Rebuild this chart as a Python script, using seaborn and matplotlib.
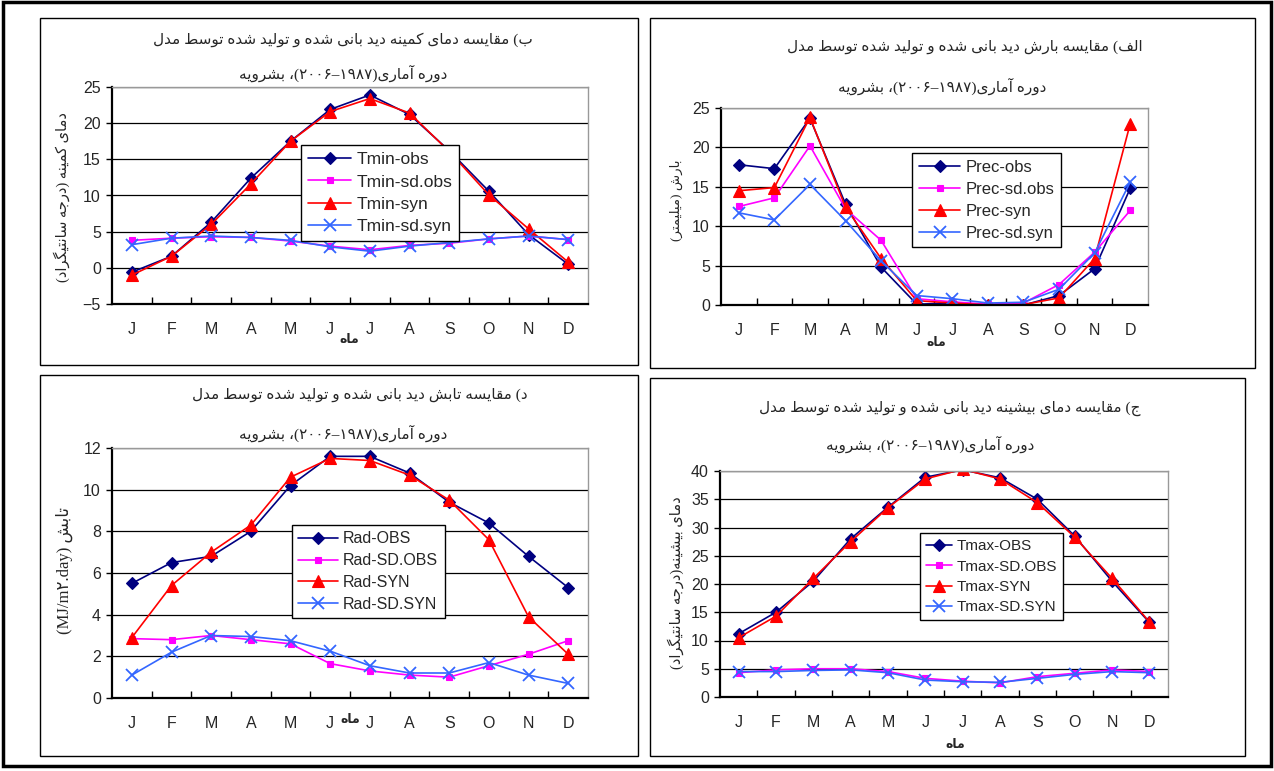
import re
import matplotlib
matplotlib.use('Agg')
import matplotlib.pyplot as plt
import seaborn as sns
from matplotlib.patches import Rectangle

months = ['J', 'F', 'M', 'A', 'M', 'J', 'J', 'A', 'S', 'O', 'N', 'D']

# ب) دمای کمینه
tmin_obs = [-0.6, 1.6, 6.3, 12.4, 17.5, 21.9, 23.9, 21.2, 16.2, 10.6, 4.6, 0.5]
tmin_sd_obs = [3.8, 4.1, 4.3, 4.2, 3.7, 3.0, 2.5, 3.1, 3.4, 4.0, 4.4, 3.9]
tmin_syn = [-1.0, 1.6, 6.0, 11.6, 17.5, 21.6, 23.4, 21.4, 16.1, 10.1, 5.4, 0.8]
tmin_sd_syn = [3.2, 4.1, 4.4, 4.2, 3.8, 2.9, 2.3, 3.0, 3.5, 4.0, 4.4, 3.9]

# الف) بارش
prec_obs = [17.8, 17.3, 23.7, 12.8, 4.8, 0.1, 0.25, 0.0, 0.0, 1.2, 4.6, 14.8]
prec_sd_obs = [12.5, 13.6, 20.2, 12.2, 8.2, 0.8, 0.4, 0.1, 0.25, 2.6, 6.7, 12.0]
prec_syn = [14.5, 14.9, 23.8, 12.4, 5.9, 0.55, 0.25, 0.0, 0.05, 0.9, 5.9, 23.0]
prec_sd_syn = [11.7, 10.8, 15.3, 10.7, 5.6, 1.2, 0.8, 0.25, 0.35, 2.0, 6.6, 15.6]

# د) تابش
rad_obs = [5.5, 6.5, 6.8, 8.0, 10.2, 11.6, 11.6, 10.8, 9.4, 8.4, 6.8, 5.3]
rad_sd_obs = [2.85, 2.8, 3.0, 2.8, 2.6, 1.65, 1.3, 1.1, 1.0, 1.55, 2.1, 2.75]
rad_syn = [2.9, 5.4, 7.0, 8.3, 10.6, 11.5, 11.4, 10.7, 9.5, 7.6, 3.9, 2.1]
rad_sd_syn = [1.1, 2.2, 3.0, 2.95, 2.75, 2.25, 1.55, 1.2, 1.2, 1.7, 1.1, 0.7]

# ج) دمای بیشینه
tmax_obs = [11.2, 15.0, 20.5, 28.0, 33.6, 38.9, 40.2, 38.8, 35.0, 28.5, 20.5, 13.2]
tmax_sd_obs = [4.3, 4.8, 5.0, 5.0, 4.5, 3.3, 2.8, 2.5, 3.6, 4.2, 4.8, 4.5]
tmax_syn = [10.5, 14.3, 21.0, 27.5, 33.5, 38.6, 40.3, 38.6, 34.4, 28.3, 21.0, 13.3]
tmax_sd_syn = [4.5, 4.5, 4.7, 4.8, 4.3, 3.0, 2.7, 2.6, 3.3, 4.0, 4.5, 4.3]

period = 'دوره آماری(۱۹۸۷–۲۰۰۶)، بشرویه'
xlab = 'ماه'

# matplotlib does not join or reorder arabic letters, so do it by hand
_dual = {'ئ': 0xFE89, 'ب': 0xFE8F, 'ت': 0xFE95, 'ث': 0xFE99, 'ج': 0xFE9D, 'ح': 0xFEA1,
         'خ': 0xFEA5, 'س': 0xFEB1, 'ش': 0xFEB5, 'ص': 0xFEB9, 'ض': 0xFEBD, 'ط': 0xFEC1,
         'ظ': 0xFEC5, 'ع': 0xFEC9, 'غ': 0xFECD, 'ف': 0xFED1, 'ق': 0xFED5, 'ك': 0xFED9,
         'ل': 0xFEDD, 'م': 0xFEE1, 'ن': 0xFEE5, 'ه': 0xFEE9, 'ي': 0xFEF1, 'پ': 0xFB56,
         'چ': 0xFB7A, 'ک': 0xFB8E, 'گ': 0xFB92, 'ی': 0xFBFC}
_right = {'آ': 0xFE81, 'أ': 0xFE83, 'ؤ': 0xFE85, 'إ': 0xFE87, 'ا': 0xFE8D, 'ة': 0xFE93,
          'د': 0xFEA9, 'ذ': 0xFEAB, 'ر': 0xFEAD, 'ز': 0xFEAF, 'و': 0xFEED, 'ى': 0xFEEF,
          'ژ': 0xFB8A}


def fa(s):
    out = []
    for i, c in enumerate(s):
        base = _dual.get(c, _right.get(c))
        if base is None:
            out.append(c)
            continue
        prev = s[i - 1] if i > 0 else ''
        nxt = s[i + 1] if i + 1 < len(s) else ''
        k = 0
        if prev in _dual:
            k += 1
        if c in _dual and (nxt in _dual or nxt in _right):
            k += 2
        out.append(chr(base + k))
    runs = re.findall(r'[A-Za-z0-9۰-۹./]+|[^A-Za-z0-9۰-۹./]', ''.join(out))
    mirror = {'(': ')', ')': '('}
    return ''.join(mirror.get(r, r) for r in reversed(runs))


sns.set_style('white')
plt.rcParams['font.family'] = ['Liberation Sans', 'DejaVu Sans']

W, H = 1274, 771
fig = plt.figure(figsize=(W / 100, H / 100), dpi=100)


def fx(x):
    return x / W


def fy(y):
    return 1 - y / H


def box(x0, y0, x1, y1, lw=1.0):
    fig.patches.append(Rectangle((fx(x0), fy(y1)), fx(x1 - x0), (y1 - y0) / H,
                                 transform=fig.transFigure, fill=False,
                                 edgecolor='black', lw=lw))


# outer frame and panel frames
box(3, 2, 1271, 766, lw=2.5)
box(40, 18, 638, 365)
box(650, 18, 1255, 368)
box(40, 375, 638, 756)
box(650, 378, 1245, 756)

colors = ['#000080', '#FF00FF', '#FF0000', '#3366FF']
markers = ['D', 's', '^', 'x']
msizes = [6.5, 5, 8, 8]
serif_fa = ['Liberation Serif', 'DejaVu Sans']

panels = [
    dict(rect=(112, 87, 588, 304), ylim=(-5, 25), yticks=range(-5, 26, 5),
         series=[tmin_obs, tmin_sd_obs, tmin_syn, tmin_sd_syn],
         labels=['Tmin-obs', 'Tmin-sd.obs', 'Tmin-syn', 'Tmin-sd.syn'],
         leg=(301, 145), legfs=12.5, hl=2.5,
         t1='ب) مقایسه دمای کمینه دید بانی شده و تولید شده توسط مدل', t1pos=(343, 40),
         t2pos=(343, 73), ylab='دمای کمینه (درجه سانتیگراد)', ylpos=(62, 197), ylfs=10.5,
         xlpos=(349, 340)),
    dict(rect=(721, 108, 1148, 305), ylim=(0, 25), yticks=range(0, 26, 5),
         series=[prec_obs, prec_sd_obs, prec_syn, prec_sd_syn],
         labels=['Prec-obs', 'Prec-sd.obs', 'Prec-syn', 'Prec-sd.syn'],
         leg=(912, 153), legfs=12, hl=2.5,
         t1='الف) مقایسه بارش دید بانی شده و تولید شده توسط مدل', t1pos=(965, 47),
         t2pos=(942, 86), ylab='بارش (میلیمتر)', ylpos=(676, 200), ylfs=9.5,
         xlpos=(936, 343)),
    dict(rect=(112, 448, 588, 698), ylim=(0, 12), yticks=range(0, 13, 2),
         series=[rad_obs, rad_sd_obs, rad_syn, rad_sd_syn],
         labels=['Rad-OBS', 'Rad-SD.OBS', 'Rad-SYN', 'Rad-SD.SYN'],
         leg=(292, 525), legfs=11.5, hl=2.5,
         t1='د) مقایسه تابش دید بانی شده و تولید شده توسط مدل', t1pos=(360, 395),
         t2pos=(343, 433), ylab='تابش (MJ/m۲.day)', ylpos=(64, 570), ylfs=12,
         xlpos=(350, 720)),
    dict(rect=(720, 471, 1168, 697), ylim=(0, 40), yticks=range(0, 41, 5),
         series=[tmax_obs, tmax_sd_obs, tmax_syn, tmax_sd_syn],
         labels=['Tmax-OBS', 'Tmax-SD.OBS', 'Tmax-SYN', 'Tmax-SD.SYN'],
         leg=(920, 533), legfs=11, hl=1.7,
         t1='ج) مقایسه دمای بیشینه دید بانی شده و تولید شده توسط مدل', t1pos=(950, 408),
         t2pos=(930, 444), ylab='دمای بیشینه(درجه سانتیگراد)', ylpos=(676, 583), ylfs=10.5,
         xlpos=(955, 745)),
]

xs = list(range(12))
for p in panels:
    x0, y0, x1, y1 = p['rect']
    ax = fig.add_axes([fx(x0), fy(y1), fx(x1 - x0), (y1 - y0) / H])
    for vals, lab, c, m, ms in zip(p['series'], p['labels'], colors, markers, msizes):
        sns.lineplot(x=xs, y=vals, ax=ax, color=c, marker=m, markersize=ms,
                     markeredgecolor=c, markeredgewidth=1.3 if m == 'x' else 0.8,
                     linewidth=1.2, label=lab)
    ax.set_xlim(-0.5, 11.5)
    ax.set_ylim(*p['ylim'])
    ax.set_yticks(list(p['yticks']))
    ax.set_xticks(xs)
    ax.set_xticklabels(months)
    ax.set_xticks([i + 0.5 for i in range(11)], minor=True)
    ax.tick_params(axis='x', which='major', length=0, pad=13, labelsize=11.5)
    ax.tick_params(axis='x', which='minor', direction='in', length=5, width=1,
                   color='black', bottom=True)
    ax.tick_params(axis='y', direction='out', length=4, width=1, color='black',
                   left=True, pad=4, labelsize=11.5)
    ax.grid(axis='y', color='black', lw=0.9)
    ax.set_axisbelow(True)
    ax.set_xlabel('')
    ax.set_ylabel('')
    for s in ['left', 'bottom']:
        ax.spines[s].set_color('black')
        ax.spines[s].set_linewidth(1.6)
    for s in ['top', 'right']:
        ax.spines[s].set_color('#999999')
        ax.spines[s].set_linewidth(1.0)
    leg = ax.legend(loc='upper left', bbox_to_anchor=(fx(p['leg'][0]), fy(p['leg'][1])),
                    bbox_transform=fig.transFigure, frameon=True, fancybox=False,
                    edgecolor='black', framealpha=1, fontsize=p['legfs'],
                    handlelength=p['hl'], borderpad=0.4, labelspacing=0.42,
                    handletextpad=0.3, borderaxespad=0)
    leg.get_frame().set_linewidth(1.0)

    fig.text(fx(p['t1pos'][0]), fy(p['t1pos'][1]), fa(p['t1']), ha='center',
             va='center', fontsize=11, family=serif_fa)
    fig.text(fx(p['t2pos'][0]), fy(p['t2pos'][1]), fa(period), ha='center',
             va='center', fontsize=11, family=serif_fa)
    fig.text(fx(p['ylpos'][0]), fy(p['ylpos'][1]), fa(p['ylab']), ha='center',
             va='center', rotation=90, fontsize=p['ylfs'], family=serif_fa)
    fig.text(fx(p['xlpos'][0]), fy(p['xlpos'][1]), fa(xlab), ha='center',
             va='center', fontsize=9, fontweight='bold', family=serif_fa)

fig.savefig('out.png', dpi=100)
